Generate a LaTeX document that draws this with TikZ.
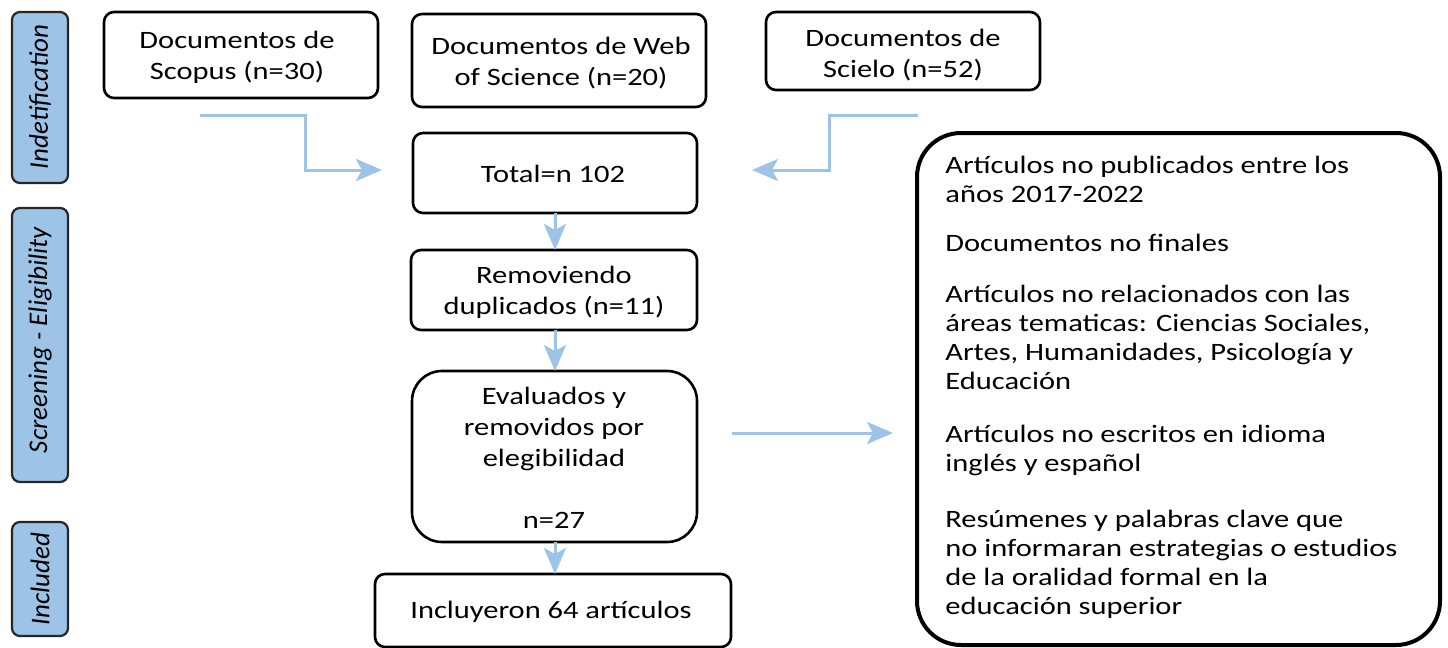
\documentclass[tikz,border=0pt]{standalone}
\usepackage{fontspec}
\setmainfont{Carlito}[FakeStretch=1.22]
\newfontfamily\sidefont{Carlito}
\usetikzlibrary{arrows.meta}
\definecolor{sideblue}{HTML}{9DC3E6}
\definecolor{arrblue}{HTML}{9DC3E6}
\tikzset{
  boxstyle/.style={draw=black, line width=1.3pt, rounded corners=5pt, fill=white},
  sidelabel/.style={draw=black!85, line width=1.1pt, rounded corners=4pt, fill=sideblue},
  flow/.style={draw=arrblue, line width=1.5pt, -{Stealth[length=13pt,width=11pt,inset=3pt]}},
  boxtext/.style={font=\fontsize{12.5}{15.5}\selectfont, align=center},
  sidetext/.style={rotate=90, font=\sidefont\fontsize{13.5}{15}\selectfont\itshape},
}
\begin{document}
\begin{tikzpicture}[x=0.5pt,y=-0.5pt]
\useasboundingbox (0,0) rectangle (1448,648);
% side labels
\draw[sidelabel] (12,12) rectangle (68,183);
\node[sidetext] (lab1) at (40,97) {Indetification};
\draw[sidelabel] (12,208) rectangle (68,482);
\node[sidetext] (lab2) at (40,340) {Screening - Eligibility};
\draw[sidelabel] (12,522) rectangle (68,636);
\node[sidetext] (lab3) at (40,579) {Included};
% boxes
\draw[boxstyle] (104,12) rectangle (378,98);
\node[boxtext] (scopus) at (237,57) {Documentos de\\Scopus (n=30)};
\draw[boxstyle] (412,14) rectangle (706,107);
\node[boxtext] (wos) at (561,63) {Documentos de Web\\of Science (n=20)};
\draw[boxstyle] (766,12) rectangle (1040,90);
\node[boxtext] (scielo) at (903,55) {Documentos de\\Scielo (n=52)};
\draw[boxstyle] (413,133) rectangle (697,213);
\node[boxtext] (total) at (553,174) {Total=n 102};
\coordinate (totalT) at (555,133);
\coordinate (totalB) at (555,213);
\draw[boxstyle] (411,250) rectangle (697,330);
\node[boxtext] (remov) at (554,292) {Removiendo\\duplicados (n=11)};
\coordinate (removT) at (555,250);
\coordinate (removB) at (555,330);
\draw[boxstyle, rounded corners=15pt] (412,371) rectangle (697,542);
\node[boxtext] (eval) at (554,458) {Evaluados y\\removidos por\\elegibilidad\\[15.5pt]n=27};
\coordinate (evalT) at (555,371);
\coordinate (evalB) at (555,542);
\draw[boxstyle] (375,574) rectangle (731,647);
\node[boxtext] (incl) at (551,612) {Incluyeron 64 artículos};
\coordinate (inclT) at (555,574);
\draw[boxstyle, line width=2pt, rounded corners=22pt] (917,133) rectangle (1440,645);
\node[anchor=north west, align=left, font=\fontsize{12.5}{14.5}\selectfont, inner sep=0pt] (excl) at (945,156)
{Artículos no publicados entre los\\años 2017-2022\\[10pt]
Documentos no finales\\[11pt]
Artículos no relacionados con las\\áreas tematicas: Ciencias Sociales,\\Artes, Humanidades, Psicología y\\Educación\\[12pt]
Artículos no escritos en idioma\\inglés y español\\[13.5pt]
Resúmenes y palabras clave que\\no informaran estrategias o estudios\\de la oralidad formal en la\\educación superior};
% arrows
\coordinate (l0) at (200,115);
\coordinate (l1) at (305,115);
\coordinate (l2) at (305,170);
\coordinate (l3) at (382,170);
\draw[flow] (l0) -- (l1) -- (l2) -- (l3);
\coordinate (r0) at (918,115);
\coordinate (r1) at (829,115);
\coordinate (r2) at (829,170);
\coordinate (r3) at (752,170);
\draw[flow] (r0) -- (r1) -- (r2) -- (r3);
\draw[flow] (totalB) -- (removT);
\draw[flow] (removB) -- (evalT);
\draw[flow] (evalB) -- (inclT);
\coordinate (h0) at (732,433);
\coordinate (h1) at (893,433);
\draw[flow] (h0) -- (h1);
\end{tikzpicture}
\end{document}
